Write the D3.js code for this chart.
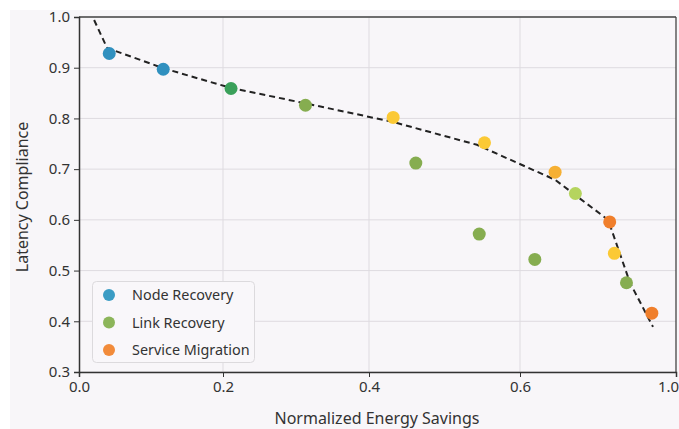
<!DOCTYPE html>
<html>
<head>
<meta charset="utf-8">
<script src="https://cdn.jsdelivr.net/npm/d3@7"></script>
<style>
  html, body { margin: 0; padding: 0; background: #ffffff; }
  svg { display: block; }
  text { font-family: "Noto Sans", "DejaVu Sans", sans-serif; fill: #333; }
</style>
</head>
<body>
<svg id="chart" width="679" height="429"></svg>
<script>
// ---- data ----
const xTickValues = [0.0, 0.2, 0.4, 0.6, 1.0];
const xTickLabels = ["0.0", "0.2", "0.4", "0.6", "1.0"];
const yTickValues = [0.3, 0.4, 0.5, 0.6, 0.7, 0.8, 0.9, 1.0];
const yTickLabels = ["0.3", "0.4", "0.5", "0.6", "0.7", "0.8", "0.9", "1.0"];

const pointX = [0.042, 0.117, 0.211, 0.313, 0.432, 0.462, 0.553, 0.546, 0.638, 0.690, 0.742, 0.830, 0.842, 0.873, 0.938];
const pointY = [0.928, 0.897, 0.859, 0.826, 0.802, 0.712, 0.752, 0.572, 0.522, 0.694, 0.652, 0.596, 0.534, 0.476, 0.416];
const pointColor = ["#3090bf", "#3090bf", "#3aa05a", "#86ad50", "#fbc935", "#86ad50", "#fbc935", "#86ad50", "#86ad50",
                    "#f6b034", "#b5d45e", "#f07f2c", "#fbc935", "#86ad50", "#f07f2c"];

const frontierX = [0.021, 0.039, 0.117, 0.211, 0.312, 0.432, 0.543, 0.690, 0.826, 0.882, 0.941];
const frontierY = [0.994, 0.939, 0.899, 0.860, 0.830, 0.793, 0.748, 0.679, 0.600, 0.476, 0.389];

const legendLabels = ["Node Recovery", "Link Recovery", "Service Migration"];
const legendColors = ["#3b9cc4", "#8cb55a", "#f28b3a"];

const xLabel = "Normalized Energy Savings";
const yLabel = "Latency Compliance";

// ---- layout ----
const svg = d3.select("#chart");
const W = 679, H = 429;
const mLeft = 79, mTop = 17, mRight = 676, mBottom = 372;

svg.append("rect").attr("x", 10).attr("y", 10).attr("width", W - 10).attr("height", H - 10).attr("fill", "#f8f6f9");

// piecewise x scale matching the reference tick spacing
const x = d3.scaleLinear().domain(xTickValues).range([79, 223, 369, 520, 676]);
const y = d3.scaleLinear().domain([0.3, 1.0]).range([mBottom, mTop]);

// grid
const g = svg.append("g");
g.selectAll("line.hg").data(yTickValues).join("line")
  .attr("x1", mLeft).attr("x2", mRight)
  .attr("y1", d => y(d)).attr("y2", d => y(d))
  .attr("stroke", "#dedbe0").attr("stroke-width", 1);
g.selectAll("line.vg").data(xTickValues.slice(1, -1)).join("line")
  .attr("y1", mTop).attr("y2", mBottom)
  .attr("x1", d => x(d)).attr("x2", d => x(d))
  .attr("stroke", "#dedbe0").attr("stroke-width", 1);

// frame top/right
svg.append("line").attr("x1", mLeft).attr("x2", mRight).attr("y1", mTop).attr("y2", mTop).attr("stroke", "#444").attr("stroke-width", 1.3);
svg.append("line").attr("x1", mRight).attr("x2", mRight).attr("y1", mTop).attr("y2", mBottom).attr("stroke", "#444").attr("stroke-width", 1.3);

// axes
const xAxis = d3.axisBottom(x).tickValues(xTickValues).tickFormat((d, i) => xTickLabels[i]).tickSize(5).tickPadding(4);
const yAxis = d3.axisLeft(y).tickValues(yTickValues).tickFormat((d, i) => yTickLabels[i]).tickSize(5).tickPadding(4);

const gx = svg.append("g").attr("transform", `translate(0,${mBottom})`).call(xAxis);
const gy = svg.append("g").attr("transform", `translate(${mLeft},0)`).call(yAxis);
[gx, gy].forEach(a => {
  a.select(".domain").attr("stroke", "#333").attr("stroke-width", 1.5);
  a.selectAll(".tick line").attr("stroke", "#333").attr("stroke-width", 1);
  a.selectAll(".tick text").attr("font-family", '"Noto Sans", "DejaVu Sans", sans-serif')
    .attr("font-size", 15).attr("fill", "#333");
});
// keep the last x label inside the window
gx.selectAll(".tick text").filter((d, i) => i === xTickValues.length - 1).attr("dx", -8);

// frontier dashed line
const lineGen = d3.line().x(d => x(d[0])).y(d => y(d[1]));
svg.append("path")
  .datum(frontierX.map((v, i) => [v, frontierY[i]]))
  .attr("d", lineGen)
  .attr("fill", "none").attr("stroke", "#222").attr("stroke-width", 2)
  .attr("stroke-dasharray", "6,4");

// points
svg.selectAll("circle.pt").data(pointX.map((v, i) => ({ x: v, y: pointY[i], c: pointColor[i] }))).join("circle")
  .attr("class", "pt")
  .attr("cx", d => x(d.x)).attr("cy", d => y(d.y)).attr("r", 6.5)
  .attr("fill", d => d.c);

// legend
const lg = svg.append("g");
lg.append("rect").attr("x", 92.5).attr("y", 281.5).attr("width", 162).attr("height", 81).attr("rx", 4)
  .attr("fill", "#f9f7fa").attr("stroke", "#dcdadd").attr("stroke-width", 1);
legendLabels.forEach((lab, i) => {
  const cy = 295 + i * 27.5;
  lg.append("circle").attr("cx", 109).attr("cy", cy).attr("r", 6).attr("fill", legendColors[i]);
  lg.append("text").attr("x", 132).attr("y", cy).attr("dy", "0.35em").attr("font-size", 14.4).attr("fill", "#333").text(lab);
});

// axis titles
svg.append("text").attr("x", 377).attr("y", 418).attr("text-anchor", "middle")
  .attr("dy", "0.35em").attr("font-size", 16).text(xLabel);
svg.append("text").attr("transform", `translate(22,197) rotate(-90)`)
  .attr("text-anchor", "middle").attr("dy", "0.35em").attr("font-size", 16).text(yLabel);
</script>
</body>
</html>
